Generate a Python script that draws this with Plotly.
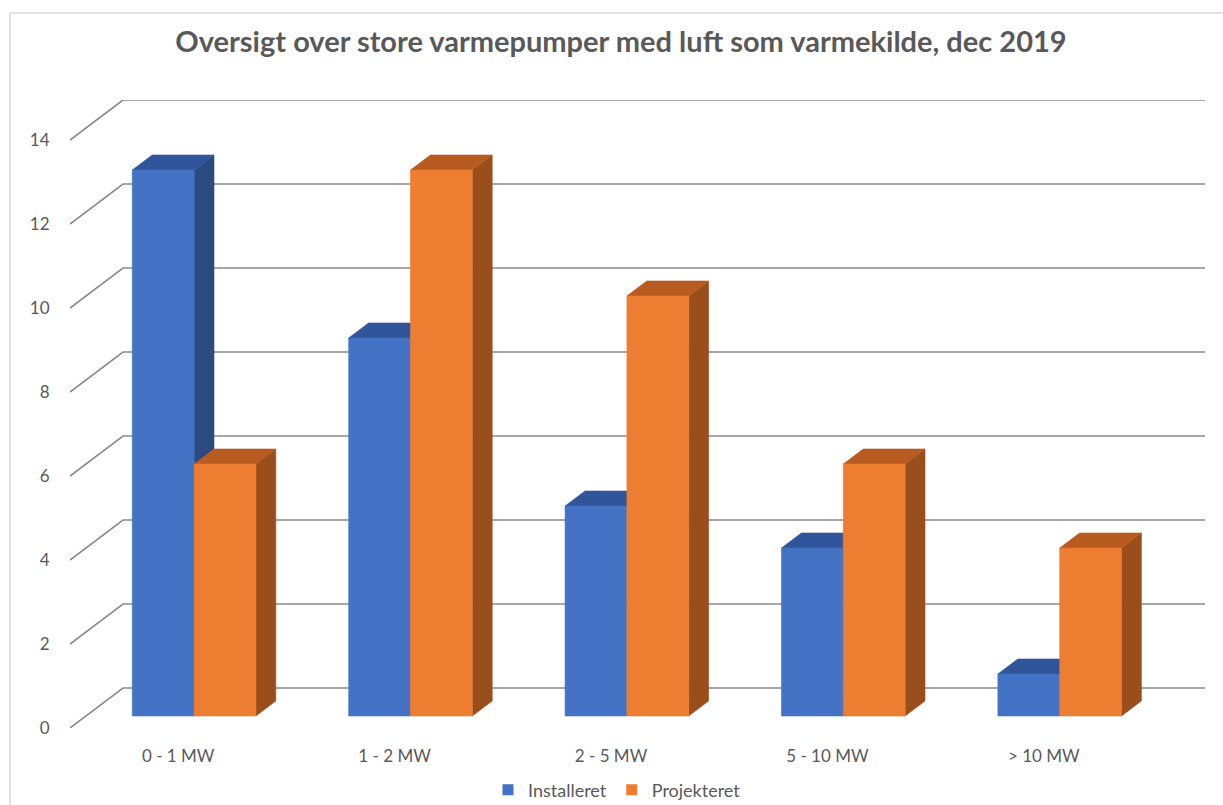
import plotly.graph_objects as go

# ---------------- data ----------------
categories = ["0 - 1 MW", "1 - 2 MW", "2 - 5 MW", "5 - 10 MW", "> 10 MW"]
installeret = [13, 9, 5, 4, 1]
projekteret = [6, 13, 10, 6, 4]
series_names = ["Installeret", "Projekteret"]
y_ticks = [0, 2, 4, 6, 8, 10, 12, 14]
title_text = "Oversigt over store varmepumper med luft som varmekilde, dec 2019"

# ---------------- style / pseudo-3D geometry ----------------
front_colors = ["#4472C4", "#ED7D31"]
top_colors = ["#30559A", "#B85B20"]
side_colors = ["#2A4A80", "#9A4E1C"]
grid_color = "#8a8a8a"
text_color = "#595959"
FONT = "Lato"

DX = 53 / 216.4      # floor depth, in category units
DY = 40 / 42.0       # floor depth, in value units
D0, D1 = 0.30, 0.675 # front/back depth of the bars (fraction of floor depth)
W = 1 / 3.5          # bar width (gap width 150 %)
YMAX = max(y_ticks)
n = len(categories)


def proj(x, v, d):
    return x + DX * d, v + DY * d


fig = go.Figure()

# perspective gridlines (left wall + back wall)
gx, gy = [], []
for t in y_ticks:
    for (x, d) in [(-0.5, 0), (-0.5, 1), (n - 0.5, 1)]:
        px, py = proj(x, t, d)
        gx.append(px)
        gy.append(py)
    gx.append(None)
    gy.append(None)
fig.add_trace(go.Scatter(x=gx, y=gy, mode="lines",
                         line=dict(color=grid_color, width=1.6),
                         hoverinfo="skip", showlegend=False))


def poly(points):
    xs, ys = [], []
    for (x, v, d) in points:
        px, py = proj(x, v, d)
        xs.append(px)
        ys.append(py)
    xs.append(xs[0]); ys.append(ys[0])
    return xs, ys


for s, values in enumerate([installeret, projekteret]):
    faces = {"side": ([], []), "top": ([], []), "front": ([], [])}
    for i, v in enumerate(values):
        x0 = i - W + s * W
        x1 = x0 + W
        shapes = {
            "front": [(x0, 0, D0), (x1, 0, D0), (x1, v, D0), (x0, v, D0)],
            "top": [(x0, v, D0), (x1, v, D0), (x1, v, D1), (x0, v, D1)],
            "side": [(x1, 0, D0), (x1, 0, D1), (x1, v, D1), (x1, v, D0)],
        }
        for k, pts in shapes.items():
            xs, ys = poly(pts)
            faces[k][0].extend(xs + [None])
            faces[k][1].extend(ys + [None])
    for k, col in [("side", side_colors[s]), ("top", top_colors[s]), ("front", front_colors[s])]:
        fig.add_trace(go.Scatter(x=faces[k][0], y=faces[k][1], mode="lines",
                                 fill="toself", fillcolor=col,
                                 line=dict(color=col, width=0.6),
                                 hoverinfo="skip", showlegend=False))

# legend entries
for s, name in enumerate(series_names):
    fig.add_trace(go.Scatter(x=[None], y=[None], mode="markers", name=name,
                             marker=dict(symbol="square", size=11, color=front_colors[s])))

L, R, T, B = 70, 18, 100, 77
fig.update_layout(
    width=1223, height=805,
    margin=dict(l=L, r=R, t=T, b=B, pad=0, autoexpand=False),
    paper_bgcolor="white", plot_bgcolor="white",
    font=dict(family=FONT, color=text_color, size=17),
    title=dict(text="<b>" + title_text + "</b>", x=621 / 1223, xanchor="center",
               xref="container", y=1 - 42 / 805, yanchor="middle", yref="container",
               font=dict(family=FONT, size=29, color=text_color)),
    showlegend=True,
    legend=dict(orientation="h", x=(617 - L) / 1135, xanchor="center",
                y=-62 / 628, yanchor="middle", font=dict(size=18, color=text_color),
                itemwidth=30, bgcolor="rgba(0,0,0,0)"),
    xaxis=dict(range=[-0.5, n - 0.5 + DX], tickvals=list(range(n)), ticktext=categories,
               showgrid=False, zeroline=False, showline=False,
               ticks="outside", ticklen=13, tickcolor="rgba(0,0,0,0)",
               fixedrange=True),
    yaxis=dict(range=[0, YMAX + DY], tickvals=y_ticks, ticktext=[str(t) for t in y_ticks],
               showgrid=False, zeroline=False, showline=False,
               ticks="outside", ticklen=16, tickcolor="rgba(0,0,0,0)",
               fixedrange=True),
    shapes=[dict(type="rect", xref="paper", yref="paper",
                 x0=(10 - L) / 1135, x1=(1240 - L) / 1135,
                 y0=-(820 - 728) / 628, y1=(728 - 13) / 628,
                 line=dict(color="#d9d9d9", width=1.5), fillcolor="rgba(0,0,0,0)",
                 layer="below")],
)

fig.write_html("out.html", config={"displayModeBar": False},
               post_script="document.body.style.margin='0';")
